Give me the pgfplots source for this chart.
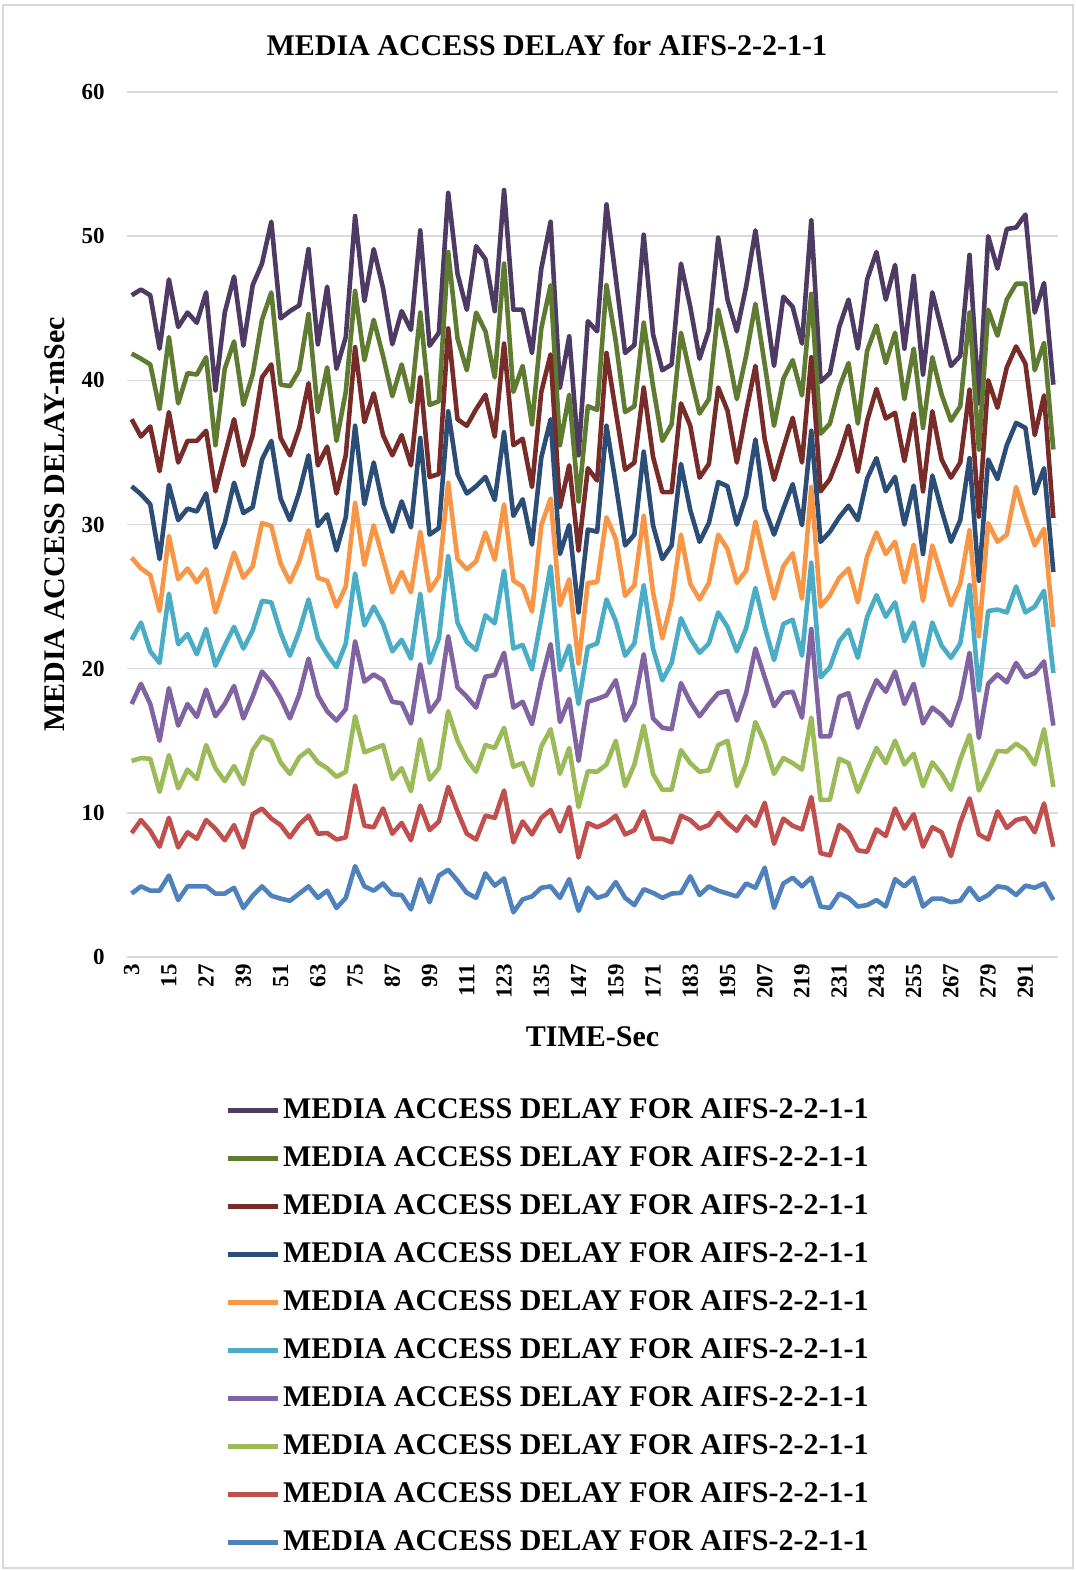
\documentclass[border=0pt]{standalone}
\usepackage{fontspec}
\setmainfont{Liberation Serif}
\usepackage{pgfplots}
\usepackage{pgfplotstable}
\pgfplotsset{compat=1.18}

\definecolor{sA}{HTML}{4D3B63}
\definecolor{sB}{HTML}{5F7A31}
\definecolor{sC}{HTML}{772C2A}
\definecolor{sD}{HTML}{2C4D75}
\definecolor{sE}{HTML}{F79646}
\definecolor{sF}{HTML}{4BACC6}
\definecolor{sG}{HTML}{8064A2}
\definecolor{sH}{HTML}{9BBB59}
\definecolor{sI}{HTML}{C0504D}
\definecolor{sJ}{HTML}{4F81BD}
\definecolor{gridgray}{HTML}{D9D9D9}

% media access delay (ms) against time (s), ten runs
\pgfplotstableread{
t s1 s2 s3 s4 s5 s6 s7 s8 s9 s10
3 45.9 41.85 37.3 32.65 27.7 22.0 17.55 13.6 8.6 4.4
6 46.3 41.5 36.1 32.1 26.95 23.2 18.95 13.8 9.5 4.9
9 45.9 41.1 36.8 31.4 26.5 21.2 17.55 13.75 8.75 4.6
12 42.2 38.0 33.7 27.6 24.0 20.4 15.0 11.45 7.65 4.6
15 47.0 43.0 37.8 32.75 29.2 25.2 18.65 14.0 9.65 5.65
18 43.7 38.4 34.3 30.3 26.2 21.7 16.05 11.7 7.6 3.95
21 44.7 40.5 35.8 31.1 26.95 22.4 17.55 13.0 8.65 4.9
24 44.0 40.4 35.8 30.9 26.0 21.0 16.65 12.35 8.2 4.9
27 46.1 41.6 36.5 32.15 26.9 22.75 18.55 14.7 9.5 4.9
30 39.3 35.5 32.3 28.4 23.9 20.2 16.7 13.1 8.9 4.4
33 44.7 40.8 34.8 30.1 25.9 21.6 17.55 12.2 8.1 4.4
36 47.2 42.7 37.3 32.9 28.05 22.9 18.8 13.25 9.15 4.8
39 42.4 38.3 34.1 30.8 26.3 21.4 16.55 12.0 7.6 3.4
42 46.6 40.4 36.2 31.2 27.1 22.65 18.05 14.35 9.9 4.25
45 48.1 44.2 40.2 34.5 30.1 24.7 19.8 15.3 10.3 4.9
48 51.0 46.1 41.1 35.8 29.9 24.6 19.05 15.0 9.6 4.25
51 44.3 39.7 36.0 31.8 27.3 22.5 17.95 13.5 9.15 4.05
54 44.8 39.6 34.8 30.3 26.0 20.9 16.55 12.7 8.3 3.9
57 45.2 40.7 36.7 32.25 27.45 22.6 18.2 13.85 9.2 4.4
60 49.1 44.6 39.8 34.8 29.6 24.8 20.7 14.35 9.8 4.9
63 42.5 37.8 34.1 29.9 26.3 22.1 18.15 13.5 8.55 4.1
66 46.5 40.9 35.4 30.7 26.1 21.0 17.05 13.1 8.6 4.6
69 40.8 35.8 32.15 28.2 24.3 20.1 16.4 12.5 8.15 3.4
72 43.0 39.2 34.8 30.5 25.7 21.75 17.2 12.85 8.3 4.1
75 51.4 46.2 42.3 36.85 31.5 26.6 21.9 16.7 11.9 6.3
78 45.5 41.4 37.1 31.4 27.2 23.0 19.1 14.2 9.1 4.9
81 49.1 44.2 39.1 34.3 29.95 24.3 19.6 14.45 9.0 4.6
84 46.4 41.7 36.2 31.3 27.6 23.1 19.2 14.7 10.3 5.1
87 42.5 38.9 34.8 29.5 25.3 21.2 17.7 12.35 8.55 4.35
90 44.8 41.1 36.2 31.6 26.7 22.0 17.6 13.1 9.3 4.3
93 43.5 38.5 34.1 29.8 25.3 20.7 16.2 11.5 8.1 3.3
96 50.4 44.7 40.2 36.0 29.5 25.2 20.3 15.1 10.5 5.4
99 42.4 38.3 33.3 29.3 25.4 20.4 17.0 12.3 8.8 3.8
102 43.3 38.55 33.5 29.75 26.4 22.1 17.9 13.1 9.4 5.65
105 53.0 48.9 43.6 37.85 32.9 27.8 22.25 17.05 11.8 6.05
108 47.4 42.9 37.3 33.5 27.6 23.2 18.7 15.0 10.1 5.3
111 44.9 40.7 36.85 32.15 26.9 21.85 18.05 13.7 8.55 4.45
114 49.3 44.7 38.0 32.65 27.45 21.3 17.3 12.85 8.15 4.1
117 48.4 43.4 39.0 33.3 29.45 23.7 19.45 14.7 9.8 5.8
120 44.8 40.2 36.1 31.7 27.55 23.15 19.55 14.5 9.65 4.95
123 53.2 48.1 42.55 36.4 31.4 26.8 21.1 15.9 11.55 5.45
126 44.9 39.2 35.5 30.6 26.1 21.4 17.3 13.2 7.95 3.1
129 44.9 41.0 35.95 31.75 25.7 21.65 17.7 13.45 9.4 4.0
132 41.9 36.95 32.6 28.6 23.96 19.95 16.15 11.9 8.5 4.2
135 47.75 43.6 39.2 34.65 29.95 23.5 19.2 14.6 9.65 4.8
138 51.0 46.6 41.8 37.3 31.8 27.1 21.7 15.8 10.2 4.9
141 39.5 35.5 31.2 27.95 24.4 19.9 16.3 12.7 8.7 4.1
144 43.05 39.0 34.1 29.95 26.2 21.6 17.9 14.5 10.4 5.4
147 34.8 31.6 28.2 23.9 20.35 17.55 13.6 10.4 6.9 3.2
150 44.1 38.2 33.9 29.65 25.95 21.5 17.7 12.9 9.3 4.8
153 43.4 37.95 33.05 29.5 26.0 21.75 17.9 12.85 9.0 4.1
156 52.2 46.6 41.9 36.85 30.5 24.8 18.15 13.35 9.3 4.3
159 47.1 42.7 37.85 32.8 29.0 23.3 19.2 15.0 9.8 5.2
162 41.9 37.8 33.8 28.55 25.05 20.9 16.4 11.85 8.5 4.1
165 42.45 38.2 34.3 29.3 25.8 21.75 17.55 13.35 8.8 3.6
168 50.1 44.0 39.5 35.05 30.6 25.8 21.0 16.05 10.1 4.7
171 43.2 39.6 34.7 29.95 25.3 21.4 16.55 12.7 8.2 4.45
174 40.7 35.8 32.25 27.6 22.1 19.2 15.9 11.6 8.2 4.1
177 41.1 36.95 32.25 28.55 24.7 20.4 15.8 11.6 7.95 4.4
180 48.1 43.3 38.4 34.2 29.3 23.5 19.0 14.35 9.8 4.45
183 45.1 40.4 36.85 31.0 25.9 22.1 17.7 13.45 9.5 5.6
186 41.5 37.7 33.25 28.8 24.8 21.1 16.7 12.85 8.9 4.3
189 43.5 38.7 34.2 30.1 25.95 21.75 17.55 12.95 9.15 4.9
192 49.9 44.9 39.5 32.95 29.3 23.9 18.3 14.7 10.0 4.6
195 45.6 42.05 37.9 32.65 28.3 22.9 18.45 15.0 9.3 4.4
198 43.4 38.7 34.3 30.0 25.95 21.2 16.4 11.85 8.75 4.2
201 46.5 41.7 37.8 32.0 26.8 22.8 18.3 13.4 9.75 5.1
204 50.4 45.3 41.0 35.9 30.2 25.6 21.4 16.3 9.1 4.8
207 45.6 41.1 35.9 31.1 27.45 22.9 19.4 14.85 10.7 6.2
210 41.0 36.85 33.1 29.3 24.85 20.6 17.4 12.7 7.85 3.4
213 45.8 40.1 35.3 31.1 27.1 23.1 18.3 13.8 9.6 5.1
216 45.1 41.4 37.4 32.8 28.0 23.4 18.4 13.45 9.1 5.5
219 42.55 38.95 34.3 29.95 24.85 20.9 16.6 13.0 8.85 4.9
222 51.1 46.0 41.6 36.5 32.6 27.35 22.75 16.6 11.1 5.5
225 39.9 36.3 32.3 28.8 24.3 19.4 15.3 10.9 7.2 3.5
228 40.5 37.0 33.15 29.5 25.1 20.1 15.3 10.9 7.05 3.4
231 43.7 39.5 34.8 30.5 26.3 21.9 18.05 13.75 9.15 4.4
234 45.6 41.2 36.85 31.3 26.95 22.7 18.3 13.45 8.65 4.1
237 42.2 37.0 33.65 30.3 24.6 20.75 15.9 11.45 7.4 3.5
240 47.0 42.05 37.2 33.2 27.8 23.6 17.7 13.0 7.3 3.6
243 48.9 43.8 39.4 34.6 29.45 25.1 19.2 14.5 8.85 3.95
246 45.6 41.2 37.35 32.3 27.95 23.6 18.4 13.45 8.4 3.5
249 48.0 43.3 37.75 33.3 28.8 24.6 19.8 15.0 10.3 5.4
252 42.2 38.7 34.4 30.0 26.0 21.9 17.55 13.35 8.9 4.9
255 47.25 42.2 37.7 32.7 28.6 23.2 18.95 14.1 9.9 5.5
258 40.4 36.7 32.3 27.95 24.7 20.2 16.2 11.85 7.65 3.5
261 46.1 41.6 37.85 33.4 28.55 23.2 17.3 13.5 9.0 4.05
264 43.55 39.0 34.5 31.0 26.45 21.6 16.8 12.7 8.65 4.05
267 41.0 37.2 33.25 28.8 24.4 20.75 16.05 11.6 7.0 3.8
270 41.7 38.2 34.3 30.3 25.9 21.75 17.9 13.7 9.3 3.9
273 48.7 44.7 39.35 34.6 29.6 25.8 21.1 15.4 11.0 4.8
276 38.4 35.2 30.55 26.1 22.25 18.5 15.2 11.55 8.5 3.95
279 50.0 44.9 40.0 34.5 30.1 24.0 18.95 12.85 8.15 4.3
282 47.75 43.1 38.1 33.15 28.8 24.1 19.6 14.3 10.1 4.9
285 50.5 45.6 40.9 35.5 29.3 23.9 19.05 14.25 8.95 4.8
288 50.6 46.7 42.35 37.05 32.6 25.7 20.4 14.8 9.5 4.3
291 51.5 46.7 41.15 36.7 30.5 23.9 19.4 14.35 9.65 4.95
294 44.7 40.7 36.2 32.15 28.55 24.3 19.7 13.35 8.65 4.8
297 46.75 42.6 38.95 33.9 29.7 25.4 20.5 15.8 10.65 5.1
300 39.7 35.2 30.45 26.7 22.9 19.7 16.05 11.8 7.65 3.95
}\delaydata

\newcommand{\labfont}{\bfseries\fontsize{15}{18}\selectfont}

\begin{document}
\begin{tikzpicture}
\useasboundingbox (0,0) rectangle (538pt,785pt);
\draw[gridgray, line width=0.8pt] (1.5pt,1pt) rectangle (536.5pt,782.5pt);
\begin{axis}[
  at={(63.5pt,306.5pt)}, anchor=south west,
  scale only axis, width=465.5pt, height=432.5pt,
  xmin=1.5, xmax=301.5, ymin=0, ymax=60,
  ytick={0,10,...,60}, xtick={3,15,...,291},
  ymajorgrids, grid style={gridgray, line width=0.8pt},
  axis line style={draw=none}, major tick length=0pt,
  /pgf/number format/assume math mode=true,
  tick label style={font=\bfseries\fontsize{11.5}{13}\selectfont},
  xticklabel style={rotate=90, anchor=east},
  yticklabel style={xshift=-7.7pt},
  title={MEDIA ACCESS DELAY for AIFS-2-2-1-1},
  every axis title/.style={font=\labfont, at={(axis description cs:0.451,1.0543)}, anchor=center},
  xlabel={TIME-Sec},
  xlabel style={font=\labfont, at={(axis description cs:0.5,-0.0925)}, anchor=center},
  ylabel={MEDIA ACCESS DELAY-mSec},
  ylabel style={font=\labfont, at={(axis description cs:-0.0773,0.5)}, anchor=center},
  no markers,
  every axis plot/.append style={line width=2.3pt, line join=round},
  legend cell align=left,
  legend image code/.code={\draw[#1, line width=2.5pt] (0pt,0pt) -- (25pt,0pt);},
  legend style={at={(axis description cs:0.451,-0.1561)}, anchor=north,
    draw=none, fill=none, font=\labfont,
    nodes={inner sep=0pt, text height=11pt, text depth=3pt},
    row sep=10pt, column sep=1.5pt},
]
\addplot[sA] table[x=t, y=s1] {\delaydata};
\addlegendentry{MEDIA ACCESS DELAY FOR AIFS-2-2-1-1}
\addplot[sB] table[x=t, y=s2] {\delaydata};
\addlegendentry{MEDIA ACCESS DELAY FOR AIFS-2-2-1-1}
\addplot[sC] table[x=t, y=s3] {\delaydata};
\addlegendentry{MEDIA ACCESS DELAY FOR AIFS-2-2-1-1}
\addplot[sD] table[x=t, y=s4] {\delaydata};
\addlegendentry{MEDIA ACCESS DELAY FOR AIFS-2-2-1-1}
\addplot[sE] table[x=t, y=s5] {\delaydata};
\addlegendentry{MEDIA ACCESS DELAY FOR AIFS-2-2-1-1}
\addplot[sF] table[x=t, y=s6] {\delaydata};
\addlegendentry{MEDIA ACCESS DELAY FOR AIFS-2-2-1-1}
\addplot[sG] table[x=t, y=s7] {\delaydata};
\addlegendentry{MEDIA ACCESS DELAY FOR AIFS-2-2-1-1}
\addplot[sH] table[x=t, y=s8] {\delaydata};
\addlegendentry{MEDIA ACCESS DELAY FOR AIFS-2-2-1-1}
\addplot[sI] table[x=t, y=s9] {\delaydata};
\addlegendentry{MEDIA ACCESS DELAY FOR AIFS-2-2-1-1}
\addplot[sJ] table[x=t, y=s10] {\delaydata};
\addlegendentry{MEDIA ACCESS DELAY FOR AIFS-2-2-1-1}
\end{axis}
\end{tikzpicture}
\end{document}
